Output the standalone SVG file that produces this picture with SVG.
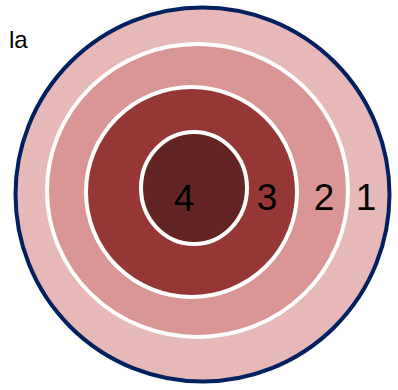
<svg xmlns="http://www.w3.org/2000/svg" width="398" height="390" viewBox="0 0 398 390">
<style>
.ring{stroke:#ffffff;stroke-width:4}
.num{font-family:"Liberation Sans",Arial,sans-serif;font-size:37px;fill:#000;text-anchor:middle}
</style>
<rect width="398" height="390" fill="#ffffff"/>
<g id="ring1"><circle cx="202.5" cy="194.5" r="187" fill="#e6b8b7" stroke="#002060" stroke-width="4"/></g>
<g id="ring2"><ellipse class="ring" cx="197.5" cy="190.5" rx="150.5" ry="146.5" fill="#da9694"/></g>
<g id="ring3"><ellipse class="ring" cx="191.5" cy="192" rx="105.5" ry="105" fill="#953735"/></g>
<g id="ring4"><ellipse class="ring" cx="194" cy="188" rx="53" ry="56" fill="#632523"/></g>
<g id="labels">
<text class="num" x="184" y="211">4</text>
<text class="num" x="267" y="210">3</text>
<text class="num" x="324" y="210">2</text>
<text class="num" x="366" y="210">1</text>
<text x="9" y="48" font-family="'Liberation Sans',Arial,sans-serif" font-size="24">la</text>
</g>
</svg>
